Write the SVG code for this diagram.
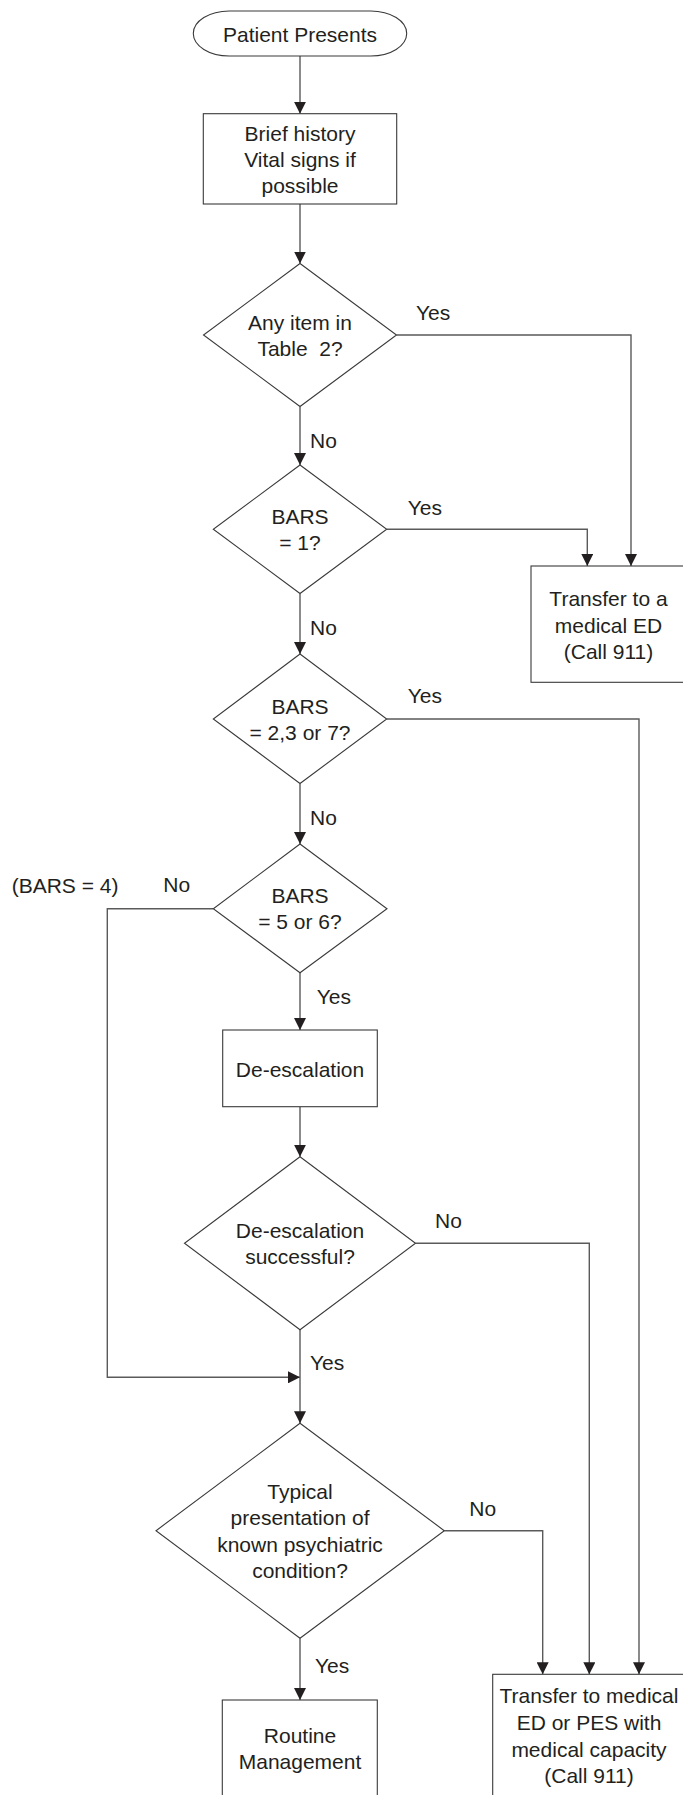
<svg xmlns="http://www.w3.org/2000/svg" width="683" height="1795" viewBox="0 0 683 1795">
<defs>
<marker id="arr" markerUnits="userSpaceOnUse" markerWidth="12" markerHeight="12" refX="12" refY="6" orient="auto" viewBox="0 0 12 12">
<path d="M0,0 L12,6 L0,12 z" fill="#231f20"/>
</marker>
<style>
.shape{fill:#fff;stroke:#3a3a3a;stroke-width:1.1}
.conn{fill:none;stroke:#5a5a5a;stroke-width:1.4}
.t{font-family:"Liberation Sans",Arial,sans-serif;font-size:21px;fill:#231f20}
.c{text-anchor:middle}
</style>
</defs>
<rect width="683" height="1795" fill="#fff"/>

<g id="connectors">
<path class="conn" d="M300,56 V113.7" marker-end="url(#arr)"/>
<path class="conn" d="M300,204 V263.5" marker-end="url(#arr)"/>
<path class="conn" d="M396.5,335 H631 V566" marker-end="url(#arr)"/>
<path class="conn" d="M300,406.5 V465" marker-end="url(#arr)"/>
<path class="conn" d="M386.7,529.3 H587.3 V566" marker-end="url(#arr)"/>
<path class="conn" d="M300,593.5 V654" marker-end="url(#arr)"/>
<path class="conn" d="M386.7,719 H639 V1674.3" marker-end="url(#arr)"/>
<path class="conn" d="M300,783.5 V844" marker-end="url(#arr)"/>
<path class="conn" d="M213.3,908.7 H107.3 V1377.3 H300" marker-end="url(#arr)"/>
<path class="conn" d="M300,972.7 V1030" marker-end="url(#arr)"/>
<path class="conn" d="M300,1106.7 V1156.7" marker-end="url(#arr)"/>
<path class="conn" d="M415.5,1243.3 H589.3 V1674.3" marker-end="url(#arr)"/>
<path class="conn" d="M300,1329.7 V1423.3" marker-end="url(#arr)"/>
<path class="conn" d="M444.3,1530.7 H542.7 V1674.3" marker-end="url(#arr)"/>
<path class="conn" d="M300,1638.3 V1700" marker-end="url(#arr)"/>
<text class="t" x="416" y="320">Yes</text>
<text class="t" x="310" y="448.3">No</text>
<text class="t" x="407.7" y="515">Yes</text>
<text class="t" x="310" y="635">No</text>
<text class="t" x="407.7" y="703.3">Yes</text>
<text class="t" x="310" y="825">No</text>
<text class="t" x="163.3" y="891.7">No</text>
<text class="t" x="11.7" y="892.7">(BARS = 4)</text>
<text class="t" x="316.7" y="1004">Yes</text>
<text class="t" x="435" y="1228.3">No</text>
<text class="t" x="310" y="1370">Yes</text>
<text class="t" x="469.3" y="1516">No</text>
<text class="t" x="315" y="1673.3">Yes</text>
</g>

<g id="start">
<rect class="shape" x="193.3" y="11" width="213.4" height="45" rx="36" ry="22.5"/>
<text class="t c" x="300" y="41.7">Patient Presents</text>
</g>

<g id="history">
<rect class="shape" x="203.3" y="113.7" width="193.4" height="90.3"/>
<text class="t c" x="300" y="140.5">Brief history</text>
<text class="t c" x="300" y="166.7">Vital signs if</text>
<text class="t c" x="300" y="193">possible</text>
</g>

<g id="table2">
<polygon class="shape" points="300,263.5 396.5,335 300,406.5 203.5,335"/>
<text class="t c" x="300" y="330">Any item in</text>
<text class="t c" x="300" y="356" xml:space="preserve">Table  2?</text>
</g>

<g id="bars1">
<polygon class="shape" points="300,465 386.7,529.3 300,593.5 213.3,529.3"/>
<text class="t c" x="300" y="524">BARS</text>
<text class="t c" x="300" y="550">= 1?</text>
</g>

<g id="transfer-ed">
<rect class="shape" x="531" y="566" width="155" height="116.3"/>
<text class="t c" x="608.5" y="606">Transfer to a</text>
<text class="t c" x="608.5" y="632.7">medical ED</text>
<text class="t c" x="608.5" y="659">(Call 911)</text>
</g>

<g id="bars237">
<polygon class="shape" points="300,654 386.7,719 300,783.5 213.3,719"/>
<text class="t c" x="300" y="714">BARS</text>
<text class="t c" x="300" y="740">= 2,3 or 7?</text>
</g>

<g id="bars56">
<polygon class="shape" points="300,844 387,908.7 300,972.7 213.3,908.7"/>
<text class="t c" x="300" y="902.7">BARS</text>
<text class="t c" x="300" y="929">= 5 or 6?</text>
</g>

<g id="deescalation">
<rect class="shape" x="222.7" y="1030" width="154.6" height="76.7"/>
<text class="t c" x="300" y="1076.5">De-escalation</text>
</g>

<g id="deesc-success">
<polygon class="shape" points="300,1156.7 415.5,1243.3 300,1329.7 184.5,1243.3"/>
<text class="t c" x="300" y="1238.3">De-escalation</text>
<text class="t c" x="300" y="1264">successful?</text>
</g>

<g id="typical">
<polygon class="shape" points="300,1423.3 444.3,1530.7 300,1638.3 156,1530.7"/>
<text class="t c" x="300" y="1499">Typical</text>
<text class="t c" x="300" y="1525">presentation of</text>
<text class="t c" x="300" y="1551.7">known psychiatric</text>
<text class="t c" x="300" y="1578.3">condition?</text>
</g>

<g id="routine">
<rect class="shape" x="222.3" y="1700" width="155" height="110"/>
<text class="t c" x="300" y="1743.3">Routine</text>
<text class="t c" x="300" y="1769.3">Management</text>
</g>

<g id="transfer-pes">
<rect class="shape" x="492.7" y="1674.3" width="193.3" height="135"/>
<text class="t c" x="589" y="1703.3">Transfer to medical</text>
<text class="t c" x="589" y="1730">ED or PES with</text>
<text class="t c" x="589" y="1756.7">medical capacity</text>
<text class="t c" x="589" y="1783.3">(Call 911)</text>
</g>
</svg>
